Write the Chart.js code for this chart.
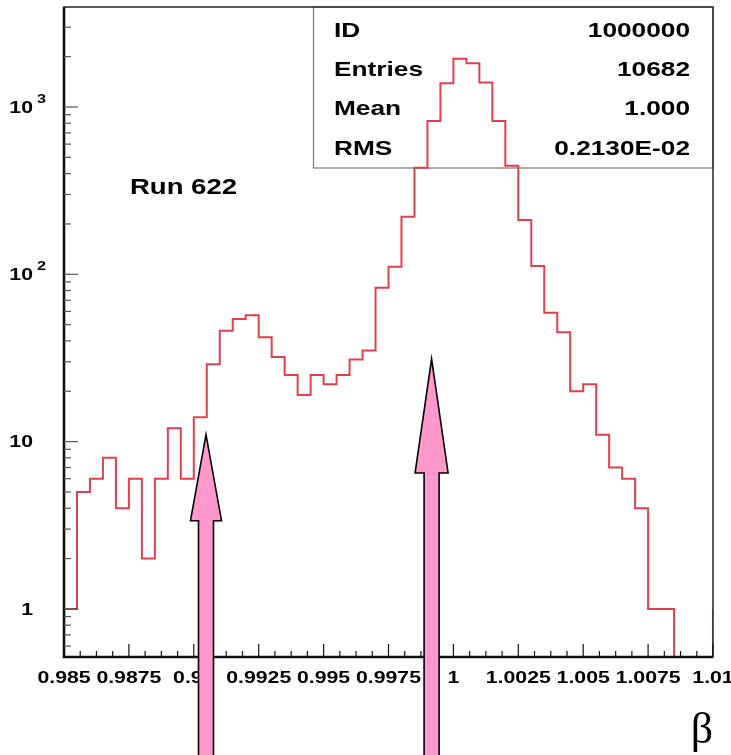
<!DOCTYPE html>
<html>
<head>
<meta charset="utf-8">
<script src="https://cdn.jsdelivr.net/npm/chart.js@4/dist/chart.umd.min.js"></script>
<style>
  html, body { margin: 0; padding: 0; background: #fff; overflow: hidden; }
  canvas { display: block; }
</style>
</head>
<body>
<canvas id="c" width="731" height="755"></canvas>
<script>
// ---- histogram data: beta distribution, 50 bins between 0.985 and 1.01 ----
const binLow = 0.985;
const binHigh = 1.01;
const counts = [
  1, 5, 6, 8, 4, 6, 2, 6, 12, 6,
  14, 29, 46, 54, 57, 42, 32, 25, 19, 25,
  22, 25, 31, 35, 83, 111, 221, 434, 826, 1387,
  1940, 1828, 1400, 826, 446, 211, 112, 59, 45, 20,
  22, 11, 7, 6, 4, 1, 1, 0, 0, 0
];
const overflow = 1;

// ---- axis ticks ----
const xTickValues = [0.985, 0.9875, 0.99, 0.9925, 0.995, 0.9975, 1, 1.0025, 1.005, 1.0075, 1.01];
const xTickLabels = ['0.985', '0.9875', '0.99', '0.9925', '0.995', '0.9975', '1', '1.0025', '1.005', '1.0075', '1.01'];
const yTickValues = [1, 10, 100, 1000];
const yTickBases = ['1', '10', '10', '10'];
const yTickExps = ['', '', '2', '3'];
const yMin = 0.516;
const yMax = 3960;

// ---- statistics box and annotations ----
const statNames = ['ID', 'Entries', 'Mean', 'RMS'];
const statValues = ['1000000', '10682', '1.000', '0.2130E-02'];
const runLabel = 'Run 622';
const axisSymbol = 'β';
const arrowX = [0.99047, 0.99916];
const arrowTip = [11, 31.2];

// ---- styling ----
const FONT = '"Liberation Sans", Arial, Helvetica, sans-serif';
const SX = 1.25;                 // horizontal stretch applied to text
const lineRed = '#e0404c';
const arrowFill = '#ff99cc';
const arrowHead = [{ len: 86, w: 31 }, { len: 114, w: 33 }];
const shaftW = 15;

const nBins = counts.length;
const binW = (binHigh - binLow) / nBins;
const stepPoints = counts.map((v, i) => ({ x: binLow + i * binW, y: v > 0 ? v : yMin }));
stepPoints.push({ x: binHigh, y: overflow });

function text(ctx, str, x, y, font, align, sx) {
  ctx.save();
  ctx.translate(x, y);
  ctx.scale(sx, 1);
  ctx.font = font;
  ctx.textAlign = align;
  ctx.textBaseline = 'middle';
  ctx.fillStyle = '#000';
  ctx.fillText(str, 0, 0);
  ctx.restore();
}

const frameAndLabels = {
  id: 'frameAndLabels',
  beforeDatasetsDraw(chart) {
    const ctx = chart.ctx, a = chart.chartArea;
    // statistics box
    ctx.save();
    ctx.strokeStyle = '#777';
    ctx.lineWidth = 1.2;
    ctx.strokeRect(a.left + 249.5, a.top, a.right - a.left - 249.5, 161);
    ctx.restore();
  },
  afterDatasetsDraw(chart) {
    const ctx = chart.ctx, a = chart.chartArea;
    const xs = chart.scales.x, ys = chart.scales.y;

    // frame
    ctx.save();
    ctx.strokeStyle = '#333';
    ctx.lineWidth = 1.6;
    ctx.strokeRect(a.left, a.top, a.right - a.left, a.bottom - a.top);
    ctx.strokeStyle = '#111';
    ctx.lineWidth = 2.6;
    ctx.beginPath();
    ctx.moveTo(a.left, a.top);
    ctx.lineTo(a.left, a.bottom);
    ctx.lineTo(a.right, a.bottom);
    ctx.stroke();

    // x ticks (inside, pointing up)
    ctx.lineWidth = 1.2;
    ctx.strokeStyle = '#111';
    const nx = 40;
    for (let i = 0; i <= nx; i++) {
      const v = binLow + i * (binHigh - binLow) / nx;
      const px = xs.getPixelForValue(v);
      const len = i % 4 === 0 ? 13 : 6;
      ctx.beginPath();
      ctx.moveTo(px, a.bottom);
      ctx.lineTo(px, a.bottom - len);
      ctx.stroke();
    }
    // y ticks (inside, pointing right)
    [0.1, 1, 10, 100, 1000].forEach(d => {
      for (let m = 1; m <= 9; m++) {
        const v = m * d;
        if (v < yMin || v > yMax) continue;
        const py = ys.getPixelForValue(v);
        const len = m === 1 ? 14 : 7;
        ctx.beginPath();
        ctx.moveTo(a.left, py);
        ctx.lineTo(a.left + len, py);
        ctx.strokeStyle = '#555';
        ctx.stroke();
      }
    });
    ctx.restore();

    // x tick labels
    xTickValues.forEach((v, i) => {
      text(ctx, xTickLabels[i], xs.getPixelForValue(v), a.bottom + 21, 'bold 17px ' + FONT, 'center', SX);
    });
    // y tick labels with exponent
    yTickValues.forEach((v, i) => {
      const py = ys.getPixelForValue(v);
      text(ctx, yTickBases[i], 33, py + 1, 'bold 17px ' + FONT, 'right', SX);
      if (yTickExps[i]) text(ctx, yTickExps[i], 37, py - 8, 'bold 13px ' + FONT, 'left', SX);
    });

    // statistics text
    statNames.forEach((n, i) => {
      const y = a.top + 24 + i * 39.3;
      text(ctx, n, 334, y, 'bold 21px ' + FONT, 'left', SX);
      text(ctx, statValues[i], 690, y, 'bold 21px ' + FONT, 'right', SX);
    });

    // run label
    text(ctx, runLabel, 130, 188, 'bold 22px ' + FONT, 'left', SX);

    // axis title
    text(ctx, axisSymbol, 702, 731, '44px "Liberation Serif", "Times New Roman", serif', 'center', 1);

    // arrows
    ctx.save();
    ctx.fillStyle = arrowFill;
    ctx.strokeStyle = '#000';
    ctx.lineWidth = 1.6;
    ctx.lineJoin = 'miter';
    arrowX.forEach((xv, i) => {
      const px = xs.getPixelForValue(xv);
      const tip = ys.getPixelForValue(arrowTip[i]);
      const h = arrowHead[i];
      const base = tip + h.len;
      const bottom = chart.height + 10;
      ctx.beginPath();
      ctx.moveTo(px, tip);
      ctx.lineTo(px + h.w / 2, base);
      ctx.lineTo(px + shaftW / 2, base);
      ctx.lineTo(px + shaftW / 2, bottom);
      ctx.lineTo(px - shaftW / 2, bottom);
      ctx.lineTo(px - shaftW / 2, base);
      ctx.lineTo(px - h.w / 2, base);
      ctx.closePath();
      ctx.fill();
      ctx.stroke();
    });
    ctx.restore();
  }
};

new Chart(document.getElementById('c'), {
  type: 'line',
  data: {
    datasets: [{
      data: stepPoints,
      stepped: 'before',
      borderColor: lineRed,
      borderWidth: 2,
      pointRadius: 0,
      fill: false,
      tension: 0
    }]
  },
  options: {
    responsive: false,
    animation: false,
    events: [],
    layout: { padding: { left: 64, right: 18, top: 7, bottom: 98 } },
    plugins: { legend: { display: false }, tooltip: { enabled: false } },
    scales: {
      x: { type: 'linear', min: binLow, max: binHigh, display: false },
      y: { type: 'logarithmic', min: yMin, max: yMax, display: false }
    }
  },
  plugins: [frameAndLabels]
});
</script>
</body>
</html>
